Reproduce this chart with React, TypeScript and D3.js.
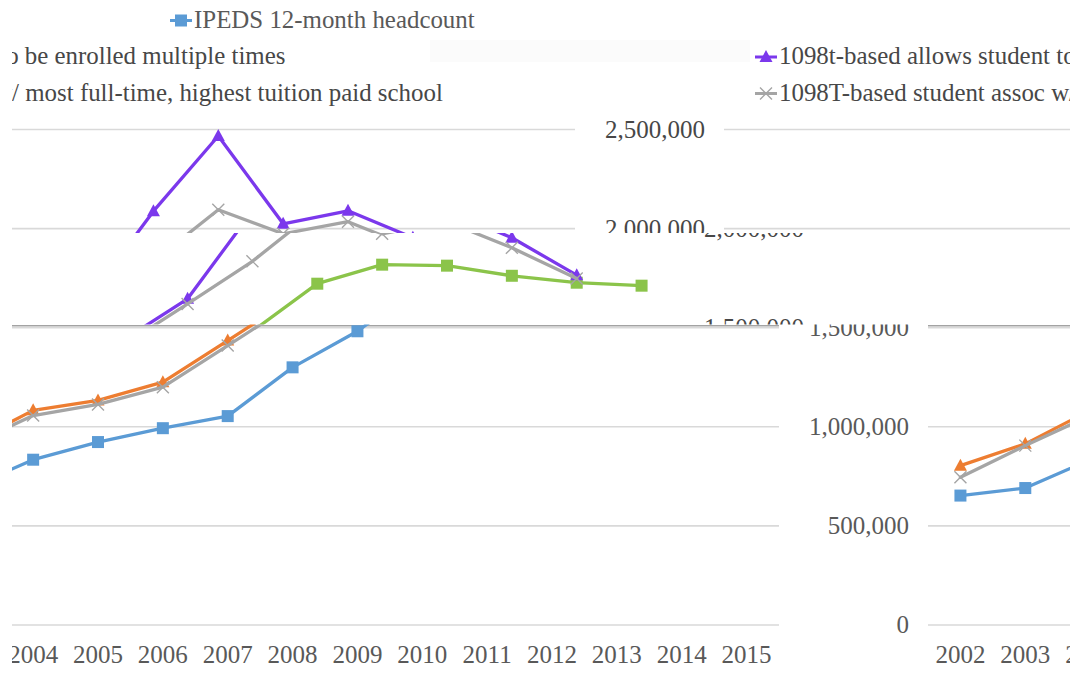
import React from 'react';
import * as d3 from 'd3';

// ---------- data ----------
const years = ['2002', '2003', '2004', '2005', '2006', '2007', '2008', '2009', '2010', '2011', '2012', '2013', '2014', '2015'];
const ipedsHeadcount = [653000, 691000, 834000, 923000, 993000, 1054000, 1300000, 1482000, 1722000, 1818000, 1813000, 1762000, 1727000, 1712000];
const multiEnrolled = [804000, 914000, 1083000, 1133000, 1225000, 1435000, 1646000, 2088000, 2467000, 2024000, 2090000, 1954000, 1765000, null];
const assocSchool = [745000, 905000, 1057000, 1113000, 1200000, 1410000, 1620000, 1835000, 2095000, 1974000, 2035000, 1903000, 1748000, null];
const yTicks = [0, 500000, 1000000, 1500000, 2000000, 2500000];
const legendLabels = [
  'IPEDS 12-month headcount',
  '1098t-based allows student to be enrolled multiple times',
  '1098T-based student assoc w/ most full-time, highest tuition paid school',
];
const markerKinds = ['square', 'triangle', 'x'];

// ---------- layout ----------
const W = 1078;
const H = 675;
const PERIOD = 1057;
const CLIP_X0 = 12;
const CLIP_X1 = 1070;
const FONT = "'Liberation Serif', 'Times New Roman', serif";

const x = d3.scalePoint<string>().domain(years).range([928, 1836]).padding(0.5);
const y = d3.scaleLinear().domain([0, 2500000]).range([625, 129.5]);
const fmt = d3.format(',');

const normalPalette = { colors: ['#5B9BD5', '#ED7D31', '#A5A5A5'], text: '#595959', grid: '#D9D9D9' };
const rotatedPalette = { colors: ['#8BC44A', '#7B38EC', '#A5A5A5'], text: '#474747', grid: '#D9D9D9' };

const strips = [
  { y0: 0, y1: 40, s: -789, pal: normalPalette, seam: false },
  { y0: 40, y1: 233, s: -204, pal: rotatedPalette, seam: false },
  { y0: 233, y1: 324.5, s: -105, pal: rotatedPalette, seam: false },
  { y0: 324.5, y1: H, s: 0, pal: normalPalette, seam: true },
];

type View = { tx: number; y0: number; y1: number };

// is a text box (chart coords) visible inside the strip window after translation?
function shows(v: View, xa: number, xb: number, ya: number, yb: number) {
  return xb + v.tx > CLIP_X0 && xa + v.tx < CLIP_X1 && yb > v.y0 && ya < v.y1;
}

function Marker({ kind, cx, cy, color }: { kind: string; cx: number; cy: number; color: string }) {
  if (kind === 'square') {
    return <rect x={cx - 6} y={cy - 6} width={12} height={12} fill={color} />;
  }
  if (kind === 'triangle') {
    return <path d={`M${cx},${cy - 7} L${cx + 6.5},${cy + 5} L${cx - 6.5},${cy + 5} Z`} fill={color} />;
  }
  return (
    <path
      d={`M${cx - 6},${cy - 6} L${cx + 6},${cy + 6} M${cx - 6},${cy + 6} L${cx + 6},${cy - 6}`}
      stroke={color}
      strokeWidth={1.4}
      fill="none"
    />
  );
}

function Chart({ pal, seam, view }: { pal: typeof normalPalette; seam: boolean; view: View }) {
  const series = [ipedsHeadcount, multiEnrolled, assocSchool];
  const line = d3
    .line<number | null>()
    .defined((d) => d != null)
    .x((_, i) => x(years[i]) as number)
    .y((d) => y(d as number));
  const [r0, r1] = x.range();
  const axisFs = 25;
  const legFs = 24.9;
  return (
    <g>
      {yTicks.map((t) => (
        <line key={'g' + t} x1={r0} x2={r1} y1={y(t)} y2={y(t)} stroke={pal.grid} strokeWidth={1.6} />
      ))}
      {seam && (
        <line x1={r0} x2={r1} y1={y(1500000) - 2} y2={y(1500000) - 2} stroke="#A3A3A3" strokeWidth={1.6} />
      )}
      {yTicks.map((t) => {
        const label = fmt(t);
        const w = label.length * 0.46 * axisFs;
        const by = y(t) + 8;
        return shows(view, 909 - w, 909, by - 19, by + 5) ? (
          <text key={'t' + t} x={909} y={by} textAnchor="end" fontSize={axisFs} fill={pal.text} fontFamily={FONT}>
            {label}
          </text>
        ) : null;
      })}
      {years.map((yr) => {
        const cx = x(yr) as number;
        return shows(view, cx - 25, cx + 25, 644, 668) ? (
          <text key={yr} x={cx} y={663} textAnchor="middle" fontSize={axisFs} fill={pal.text} fontFamily={FONT}>
            {yr}
          </text>
        ) : null;
      })}
      {series.map((vals, si) => (
        <g key={'s' + si}>
          <path
            d={line(vals) || ''}
            fill="none"
            stroke={pal.colors[si]}
            strokeWidth={3.3}
            strokeLinejoin="round"
            strokeLinecap="round"
          />
          {vals.map((v, i) =>
            v == null ? null : (
              <Marker key={i} kind={markerKinds[si]} cx={x(years[i]) as number} cy={y(v)} color={pal.colors[si]} />
            )
          )}
        </g>
      ))}
      {legendLabels.map((lab, i) => {
        const by = 27.5 + 36.5 * i;
        const my = by - 7;
        const w = lab.length * 0.47 * legFs;
        return shows(view, 959, 983 + w, by - 20, by + 6) ? (
          <g key={'l' + i}>
            <line x1={959} x2={981} y1={my} y2={my} stroke={pal.colors[i]} strokeWidth={3} />
            <Marker kind={markerKinds[i]} cx={970} cy={my} color={pal.colors[i]} />
            <text x={983} y={by} fontSize={legFs} fill={pal.text} fontFamily={FONT}>
              {lab}
            </text>
          </g>
        ) : null;
      })}
    </g>
  );
}

export default function App() {
  return (
    <svg
      width={W}
      height={H}
      viewBox={`0 0 ${W} ${H}`}
      style={{ position: 'absolute', left: 0, top: 0, background: '#fff' }}
    >
      <defs>
        {strips.map((st, i) => (
          <clipPath id={'strip' + i} key={i}>
            <rect x={CLIP_X0} y={st.y0} width={CLIP_X1 - CLIP_X0} height={st.y1 - st.y0} />
          </clipPath>
        ))}
      </defs>
      <rect x={0} y={0} width={W} height={H} fill="#fff" />
      <rect x={430} y={40} width={320} height={22} fill="#FBFBFB" />
      {strips.map((st, i) => (
        <g key={i} clipPath={`url(#strip${i})`}>
          {[-1, 0, 1].map((k) => {
            const tx = st.s + k * PERIOD;
            return (
              <g key={k} transform={`translate(${tx},0)`}>
                <Chart pal={st.pal} seam={st.seam} view={{ tx, y0: st.y0, y1: st.y1 }} />
              </g>
            );
          })}
        </g>
      ))}
    </svg>
  );
}
